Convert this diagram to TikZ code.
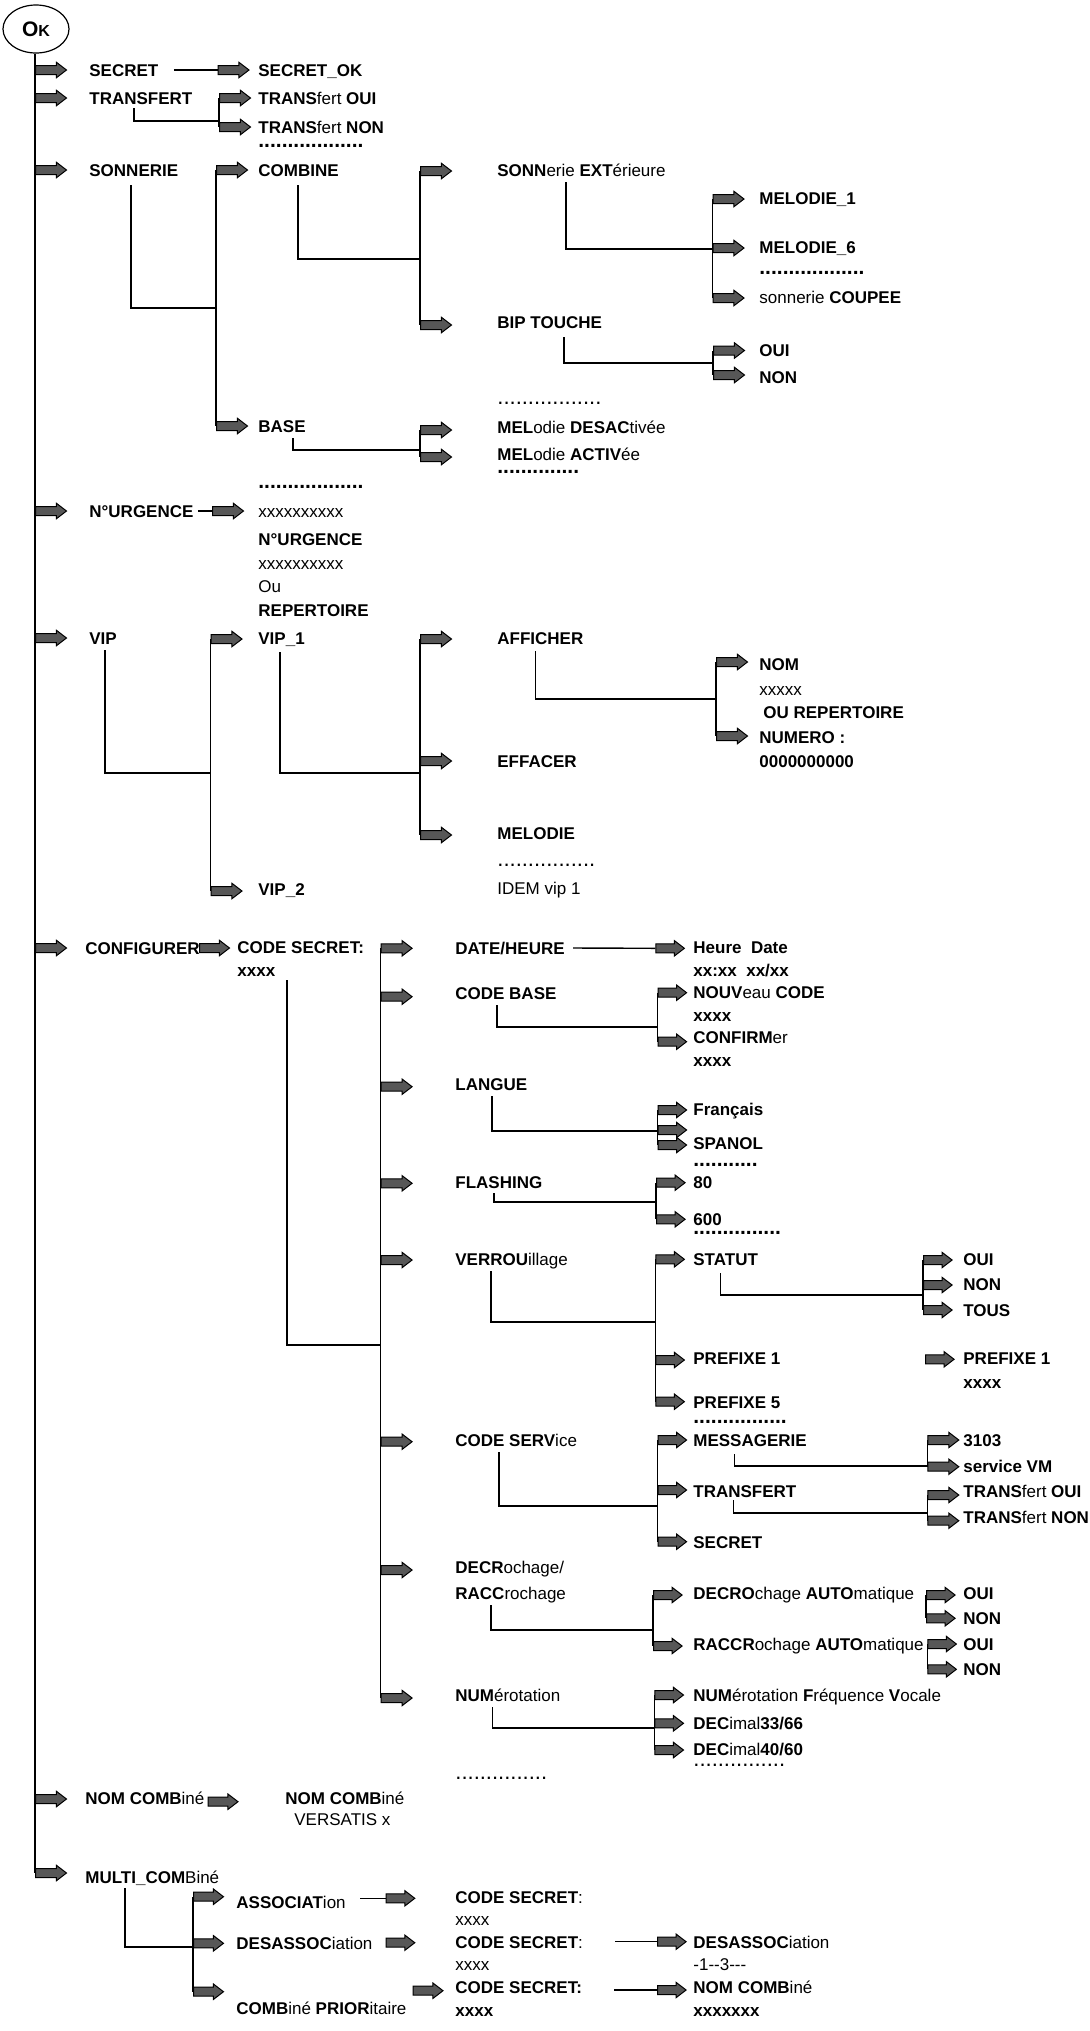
\documentclass[tikz,border=0pt]{standalone}
\usepackage{fontspec}
\setmainfont{Liberation Sans}
\usetikzlibrary{shapes.geometric, shapes.arrows}
\definecolor{grisfleche}{HTML}{575757}
\tikzset{
  titre/.style={anchor=west, inner sep=0pt, text height=6.5pt, text depth=0pt,
    font=\fontsize{8.5}{10}\selectfont\bfseries},
  texte/.style={titre, font=\fontsize{8.5}{10}\selectfont},
  points/.style={anchor=base west, inner sep=0pt, text height=1.5pt, text depth=0pt,
    font=\fontsize{10.5}{12}\selectfont\bfseries},
  pointsf/.style={points, font=\fontsize{11}{12}\selectfont},
  fleche/.style={single arrow, draw=black, fill=grisfleche, line width=0.5pt,
    minimum height=15.5pt, minimum width=7pt, single arrow head extend=1.6pt,
    single arrow tip angle=75, inner xsep=0pt, inner ysep=2pt, anchor=tail},
  flechec/.style={fleche, minimum height=14.3pt},
  lien/.style={line width=0.7pt},
  tronc/.style={line width=1.3pt}
}

\begin{document}
\begin{tikzpicture}[x=0.5pt, y=-0.5pt]
  \useasboundingbox (0,0) rectangle (1090,2031);

  \node[ellipse, draw, line width=0.6pt, minimum width=33pt, minimum height=24pt, inner sep=0pt]
    (ok) at (36,29) {\fontsize{10.5}{12}\selectfont\bfseries O{\fontsize{8}{10}\selectfont K}};

  % niveau 1
  \node[fleche] (a-secret) at (35,70) {};
  \node[fleche] (a-transfert) at (35,98) {};
  \node[fleche] (a-sonnerie) at (35,170) {};
  \node[fleche] (a-urgence) at (35,511) {};
  \node[fleche] (a-vip) at (35,638) {};
  \node[fleche] (a-config) at (35,948) {};
  \node[fleche] (a-nomcomb) at (35,1799) {};
  \node[fleche] (a-multi) at (35,1873) {};
  \draw[tronc] (ok.south -| a-secret.tail) -- (a-multi.tail);

  \node[titre] (t-secret) at (89,70) {SECRET};
  \node[titre] (t-transfert) at (89,98) {TRANSFERT};
  \node[titre] (t-sonnerie) at (89,170) {SONNERIE};
  \node[titre] (t-urgence) at (89,511) {N°URGENCE};
  \node[titre] (t-vip) at (89,638) {VIP};
  \node[titre] (t-config) at (85,948) {CONFIGURER};
  \node[texte] (t-nomcomb) at (85,1798) {\textbf{NOM COMB}iné};
  \node[texte] (t-multi) at (85,1877) {\textbf{MULTI\_COM}Biné};

  % SECRET / TRANSFERT
  \node[fleche] (a-secretok) at (217.5,70) {};
  \node[titre] (t-secretok) at (258,70) {SECRET\_OK};
  \draw[lien] ([xshift=7.5pt]t-secret.east) -- (a-secretok.tail);

  \node[fleche] (a-transoui) at (219,98) {};
  \node[fleche] (a-transnon) at (219,127) {};
  \node[texte] (t-transoui) at (258,98) {\textbf{TRANS}fert \textbf{OUI}};
  \node[texte] (t-transnon) at (258,127) {\textbf{TRANS}fert \textbf{NON}};
  \node[points] (d-trans) at (258,147) {..................};
  \coordinate (j-transfert) at (a-transoui.tail |- 0,121);
  \draw[lien] (a-transoui.tail) -- (a-transnon.tail);
  \draw[lien] ([shift={(45,3.5)}]t-transfert.south west) |- (j-transfert);

  % SONNERIE
  \node[fleche] (a-combine) at (216,170) {};
  \node[fleche] (a-base) at (216,426) {};
  \node[titre] (t-combine) at (258,170) {COMBINE};
  \node[titre] (t-base) at (258,426) {BASE};
  \coordinate (j-sonnerie) at (a-combine.tail |- 0,308);
  \draw[lien] (a-combine.tail) -- (a-base.tail);
  \draw[lien] ([shift={(42,8.5)}]t-sonnerie.south west) |- (j-sonnerie);

  \node[fleche] (a-sonext) at (420,171) {};
  \node[fleche] (a-bip) at (420,325) {};
  \node[texte] (t-sonext) at (497,170) {\textbf{SONN}erie \textbf{EXT}érieure};
  \node[titre] (t-bip) at (497,322) {BIP TOUCHE};
  \coordinate (j-combine) at (a-sonext.tail |- 0,259);
  \draw[lien] (a-sonext.tail) -- (a-bip.tail);
  \draw[lien] ([shift={(40,8.5)}]t-combine.south west) |- (j-combine);

  \node[fleche] (a-melodie1) at (712.5,199) {};
  \node[fleche] (a-melodie6) at (712.5,248) {};
  \node[fleche] (a-coupee) at (712.5,298) {};
  \node[titre] (t-melodie1) at (759,198) {MELODIE\_1};
  \node[titre] (t-melodie6) at (759,247) {MELODIE\_6};
  \node[points] (d-melodie) at (759,274) {..................};
  \node[texte] (t-coupee) at (759,297) {sonnerie \textbf{COUPEE}};
  \coordinate (j-sonext) at (a-melodie1.tail |- 0,249);
  \draw[lien] (a-melodie1.tail) -- (a-coupee.tail);
  \draw[lien] ([shift={(69,5.5)}]t-sonext.south west) |- (j-sonext);

  \node[fleche] (a-bipoui) at (713,350.5) {};
  \node[fleche] (a-bipnon) at (713,375) {};
  \node[titre] (t-bipoui) at (759,350) {OUI};
  \node[titre] (t-bipnon) at (759,377) {NON};
  \coordinate (j-bip) at (a-bipoui.tail |- 0,363);
  \draw[lien] (a-bipoui.tail) -- (a-bipnon.tail);
  \draw[lien] ([shift={(67,8.5)}]t-bip.south west) |- (j-bip);
  \node[pointsf] (d-bip) at (497,404) {.................};

  \node[fleche] (a-meldesac) at (420,430) {};
  \node[fleche] (a-melactiv) at (420,457) {};
  \node[texte] (t-meldesac) at (497,427) {\textbf{MEL}odie \textbf{DESAC}tivée};
  \node[texte] (t-melactiv) at (497,454) {\textbf{MEL}odie \textbf{ACTIV}ée};
  \node[points] (d-melactiv) at (497,473) {..............};
  \coordinate (j-base) at (a-meldesac.tail |- 0,450);
  \draw[lien] (a-meldesac.tail) -- (a-melactiv.tail);
  \draw[lien] ([shift={(35,5.5)}]t-base.south west) |- (j-base);

  % N°URGENCE
  \node[points] (d-urgence) at (258,488) {..................};
  \node[fleche] (a-urgx) at (212,511) {};
  \node[texte] (t-urgx) at (258,511) {xxxxxxxxxx};
  \node[titre] (t-urg2) at (258,539) {N°URGENCE};
  \node[texte] (t-urgx2) at (258,563) {xxxxxxxxxx};
  \node[texte] (t-ou) at (258,586) {Ou};
  \node[titre] (t-repert) at (258,610) {REPERTOIRE};
  \draw[lien] ([xshift=2pt]t-urgence.east) -- (a-urgx.tail);

  % VIP
  \node[fleche] (a-vip1) at (210.5,639) {};
  \node[fleche] (a-vip2) at (210.5,891) {};
  \node[titre] (t-vip1) at (258,638) {VIP\_1};
  \node[titre] (t-vip2) at (258,889) {VIP\_2};
  \coordinate (j-vip) at (a-vip1.tail |- 0,773);
  \draw[lien] (a-vip1.tail) -- (a-vip2.tail);
  \draw[lien] ([shift={(16,5.5)}]t-vip.south west) |- (j-vip);

  \node[fleche] (a-afficher) at (420,639) {};
  \node[fleche] (a-effacer) at (420,761) {};
  \node[fleche] (a-melodie) at (420,835) {};
  \node[titre] (t-afficher) at (497,638) {AFFICHER};
  \node[titre] (t-effacer) at (497,761) {EFFACER};
  \node[titre] (t-melodie) at (497,833) {MELODIE};
  \node[pointsf] (d-vip) at (497,866) {................};
  \node[texte] (t-idem) at (497,888) {IDEM vip 1};
  \coordinate (j-vip1) at (a-afficher.tail |- 0,773);
  \draw[lien] (a-afficher.tail) -- (a-melodie.tail);
  \draw[lien] ([shift={(22,7.5)}]t-vip1.south west) |- (j-vip1);

  \node[fleche] (a-nom) at (716,662) {};
  \node[fleche] (a-numero) at (716,736) {};
  \node[titre] (t-nom) at (759,664) {NOM};
  \node[texte] (t-nomx) at (759,689) {xxxxx};
  \node[titre] (t-ourep) at (763,712) {OU REPERTOIRE};
  \node[titre] (t-numero) at (759,737) {NUMERO :};
  \node[titre] (t-zeros) at (759,761) {0000000000};
  \coordinate (j-afficher) at (a-nom.tail |- 0,699);
  \draw[lien] (a-nom.tail) -- (a-numero.tail);
  \draw[lien] ([shift={(38.6,6.5)}]t-afficher.south west) |- (j-afficher);

  % CONFIGURER
  \node[fleche, minimum height=15pt] (a-codesecret) at (199,948) {};
  \node[titre] (t-codesecret) at (237,947) {CODE SECRET:};
  \node[titre] (t-codesecx) at (237,970) {xxxx};

  \node[fleche] (a-dateheure) at (380.6,948.3) {};
  \node[fleche] (a-codebase) at (380.6,996.7) {};
  \node[fleche] (a-langue) at (380.6,1086.7) {};
  \node[fleche] (a-flashing) at (380.6,1183.3) {};
  \node[fleche] (a-verrou) at (380.6,1260) {};
  \node[fleche] (a-codeserv) at (380.6,1441.7) {};
  \node[fleche] (a-decr) at (380.6,1570) {};
  \node[fleche] (a-num) at (380.6,1698) {};
  \coordinate (j-codesecret) at (a-dateheure.tail |- 0,1345);
  \draw[lien] (a-dateheure.tail) -- (a-num.tail);
  \draw[lien] ([shift={(50,3.5)}]t-codesecx.south west) |- (j-codesecret);

  \node[titre] (t-dateheure) at (455,948) {DATE/HEURE};
  \node[titre] (t-codebase) at (455,993) {CODE BASE};
  \node[titre] (t-langue) at (455,1084) {LANGUE};
  \node[titre] (t-flashing) at (455,1182) {FLASHING};
  \node[texte] (t-verrou) at (455,1259) {\textbf{VERROU}illage};
  \node[texte] (t-codeserv) at (455,1440) {\textbf{CODE SERV}ice};
  \node[texte] (t-decr) at (455,1567) {\textbf{DECR}ochage/};
  \node[texte] (t-racc) at (455,1593) {\textbf{RACC}rochage};
  \node[texte] (t-num) at (455,1695) {\textbf{NUM}érotation};
  \node[pointsf] (d-num) at (455,1779) {...............};

  \node[flechec] (a-heure) at (655.3,948.3) {};
  \node[titre] (t-heure) at (693,947) {Heure\ \ Date};
  \node[titre] (t-heurex) at (693,970) {xx:xx\ \ xx/xx};
  \draw[lien] ([xshift=4pt]t-dateheure.east) -- (a-heure.tail);

  \node[flechec] (a-nouveau) at (657.5,992.7) {};
  \node[flechec] (a-confirm) at (657.5,1041.7) {};
  \node[texte] (t-nouveau) at (693,992) {\textbf{NOUV}eau \textbf{CODE}};
  \node[titre] (t-nouvx) at (693,1015) {xxxx};
  \node[texte] (t-confirm) at (693,1037) {\textbf{CONFIRM}er};
  \node[titre] (t-confx) at (693,1060) {xxxx};
  \coordinate (j-codebase) at (a-nouveau.tail |- 0,1027);
  \draw[lien] (a-nouveau.tail) -- (a-confirm.tail);
  \draw[lien] ([shift={(42,5.5)}]t-codebase.south west) |- (j-codebase);

  \node[flechec] (a-francais) at (657.5,1110) {};
  \node[flechec] (a-langmid) at (657.5,1130) {};
  \node[flechec] (a-spanol) at (657.5,1145) {};
  \node[titre] (t-francais) at (693,1109) {Français};
  \node[titre] (t-spanol) at (693,1143) {SPANOL};
  \node[points] (d-spanol) at (693,1166) {...........};
  \coordinate (j-langue) at (a-francais.tail |- 0,1131);
  \draw[lien] (a-francais.tail) -- (a-spanol.tail);
  \draw[lien] ([shift={(37,5.5)}]t-langue.south west) |- (j-langue);

  \node[flechec] (a-80) at (656,1182.7) {};
  \node[flechec] (a-600) at (656,1219.3) {};
  \node[titre] (t-80) at (693,1182) {80};
  \node[titre] (t-600) at (693,1219) {600};
  \node[points] (d-600) at (693,1234) {...............};
  \coordinate (j-flashing) at (a-80.tail |- 0,1202);
  \draw[lien] (a-80.tail) -- (a-600.tail);
  \draw[lien] ([shift={(39,4.5)}]t-flashing.south west) |- (j-flashing);

  \node[flechec] (a-statut) at (655.3,1259.3) {};
  \node[flechec] (a-pref1) at (655.3,1360) {};
  \node[flechec] (a-pref5) at (655.3,1401.7) {};
  \node[titre] (t-statut) at (693,1259) {STATUT};
  \node[titre] (t-pref1) at (693,1358) {PREFIXE 1};
  \node[titre] (t-pref5) at (693,1402) {PREFIXE 5};
  \node[points] (d-pref5) at (693,1423) {................};
  \coordinate (j-verrou) at (a-statut.tail |- 0,1322);
  \draw[lien] (a-statut.tail) -- (a-pref5.tail);
  \draw[lien] ([shift={(36,5.5)}]t-verrou.south west) |- (j-verrou);

  \node[flechec] (a-statoui) at (923,1260) {};
  \node[flechec] (a-statnon) at (923,1285) {};
  \node[flechec] (a-tous) at (923,1310) {};
  \node[titre] (t-statoui) at (963,1259) {OUI};
  \node[titre] (t-statnon) at (963,1284) {NON};
  \node[titre] (t-tous) at (963,1310) {TOUS};
  \coordinate (j-statut) at (a-statoui.tail |- 0,1295);
  \draw[lien] (a-statoui.tail) -- (a-tous.tail);
  \draw[lien] ([shift={(27.4,7.5)}]t-statut.south west) |- (j-statut);

  \node[flechec] (a-pref1b) at (925,1359.3) {};
  \node[titre] (t-pref1b) at (963,1358) {PREFIXE 1};
  \node[titre] (t-pref1x) at (963,1382) {xxxx};

  \node[flechec] (a-messagerie) at (657.5,1440) {};
  \node[flechec] (a-transf2) at (657.5,1490) {};
  \node[flechec] (a-secret2) at (657.5,1541.7) {};
  \node[titre] (t-messagerie) at (693,1440) {MESSAGERIE};
  \node[titre] (t-transf2) at (693,1491) {TRANSFERT};
  \node[titre] (t-secret2) at (693,1542) {SECRET};
  \coordinate (j-codeserv) at (a-messagerie.tail |- 0,1506);
  \draw[lien] (a-messagerie.tail) -- (a-secret2.tail);
  \draw[lien] ([shift={(44,5.5)}]t-codeserv.south west) |- (j-codeserv);

  \node[fleche] (a-3103) at (927.3,1440) {};
  \node[fleche] (a-servicevm) at (927.3,1466.7) {};
  \node[titre] (t-3103) at (963,1440) {3103};
  \node[titre] (t-servicevm) at (963,1466) {service VM};
  \coordinate (j-messagerie) at (a-3103.tail |- 0,1466);
  \draw[lien] (a-3103.tail) -- (a-servicevm.tail);
  \draw[lien] ([shift={(41.5,7.5)}]t-messagerie.south west) |- (j-messagerie);

  \node[fleche] (a-transoui2) at (927.3,1495) {};
  \node[fleche] (a-transnon2) at (927.3,1520.7) {};
  \node[texte] (t-transoui2) at (963,1491) {\textbf{TRANS}fert \textbf{OUI}};
  \node[texte] (t-transnon2) at (963,1517) {\textbf{TRANS}fert \textbf{NON}};
  \coordinate (j-transf2) at (a-transoui2.tail |- 0,1513);
  \draw[lien] (a-transoui2.tail) -- (a-transnon2.tail);
  \draw[lien] ([shift={(40.6,2.5)}]t-transf2.south west) |- (j-transf2);

  \node[flechec] (a-decro) at (653,1595) {};
  \node[flechec] (a-raccro) at (653,1646) {};
  \node[texte] (t-decro) at (693,1593) {\textbf{DECRO}chage \textbf{AUTO}matique};
  \node[texte] (t-raccro) at (693,1644) {\textbf{RACCR}ochage \textbf{AUTO}matique};
  \coordinate (j-decr) at (a-decro.tail |- 0,1630);
  \draw[lien] (a-decro.tail) -- (a-raccro.tail);
  \draw[lien] ([shift={(36,5.5)}]t-racc.south west) |- (j-decr);

  \node[flechec] (a-decroui) at (926,1595) {};
  \node[flechec] (a-decrnon) at (926,1618.3) {};
  \node[flechec] (a-raccoui) at (927.3,1644) {};
  \node[flechec] (a-raccnon) at (927.3,1669.3) {};
  \node[titre] (t-decroui) at (963,1593) {OUI};
  \node[titre] (t-decrnon) at (963,1618) {NON};
  \node[titre] (t-raccoui) at (963,1644) {OUI};
  \node[titre] (t-raccnon) at (963,1669) {NON};
  \draw[lien] (a-decroui.tail) -- (a-decrnon.tail);
  \draw[lien] (a-raccoui.tail) -- (a-raccnon.tail);

  \node[flechec] (a-numfv) at (654.4,1695) {};
  \node[flechec] (a-dec33) at (654.4,1723.3) {};
  \node[flechec] (a-dec40) at (654.4,1750) {};
  \node[texte] (t-numfv) at (693,1695) {\textbf{NUM}érotation \textbf{F}réquence \textbf{V}ocale};
  \node[texte] (t-dec33) at (693,1723) {\textbf{DEC}imal\textbf{33/66}};
  \node[texte] (t-dec40) at (693,1749) {\textbf{DEC}imal\textbf{40/60}};
  \node[pointsf] (d-dec40) at (693,1766) {...............};
  \coordinate (j-num) at (a-numfv.tail |- 0,1728);
  \draw[lien] (a-numfv.tail) -- (a-dec40.tail);
  \draw[lien] ([shift={(37.4,5.5)}]t-num.south west) |- (j-num);

  % NOM COMBine
  \node[fleche, minimum height=15pt] (a-nomcomb2) at (207.5,1801.7) {};
  \node[texte] (t-nomcomb2) at (285,1798) {\textbf{NOM COMB}iné};
  \node[texte] (t-versatis) at (294,1819) {VERSATIS x};

  % MULTI_COMBine
  \node[fleche, minimum height=15pt] (a-assoc) at (193,1896.7) {};
  \node[fleche, minimum height=15pt] (a-desassoc) at (193,1943.3) {};
  \node[fleche, minimum height=15pt] (a-prior) at (193,1991.7) {};
  \node[texte] (t-assoc) at (236,1902) {\textbf{ASSOCIAT}ion};
  \node[texte] (t-desassoc) at (236,1943) {\textbf{DESASSOC}iation};
  \node[texte] (t-prior) at (236,2008) {\textbf{COMB}iné \textbf{PRIOR}itaire};
  \coordinate (j-multi) at (a-assoc.tail |- 0,1947);
  \draw[lien] (a-assoc.tail) -- (a-prior.tail);
  \draw[lien] ([shift={(40,4.5)}]t-multi.south west) |- (j-multi);

  \node[flechec] (a-cs1) at (385.7,1898.3) {};
  \node[flechec] (a-cs2) at (385.7,1942.7) {};
  \node[fleche, minimum height=15pt] (a-cs3) at (412.5,1990.7) {};
  \node[texte] (t-cs1) at (455,1897) {\textbf{CODE SECRET}:};
  \node[texte] (t-cs1x) at (455,1919) {xxxx};
  \node[texte] (t-cs2) at (455,1942) {\textbf{CODE SECRET}:};
  \node[texte] (t-cs2x) at (455,1964) {xxxx};
  \node[titre] (t-cs3) at (455,1987) {CODE SECRET:};
  \node[titre] (t-cs3x) at (455,2010) {xxxx};
  \draw[lien] ([xshift=7pt]t-assoc.east |- a-cs1.tail) -- (a-cs1.tail);

  \node[flechec] (a-desassoc2) at (657,1941.7) {};
  \node[flechec] (a-nomcomb3) at (657,1990) {};
  \node[texte] (t-desassoc2) at (693,1942) {\textbf{DESASSOC}iation};
  \node[texte] (t-13) at (693,1964) {-1-{}-3-{}-{}-};
  \node[texte] (t-nomcomb3) at (693,1987) {\textbf{NOM COMB}iné};
  \node[titre] (t-nomx3) at (693,2010) {xxxxxxx};
  \draw[lien] ([xshift=16pt]t-cs2.east |- a-desassoc2.tail) -- (a-desassoc2.tail);
  \draw[lien] ([xshift=16pt]t-cs3.east |- a-nomcomb3.tail) -- (a-nomcomb3.tail);
\end{tikzpicture}
\end{document}
